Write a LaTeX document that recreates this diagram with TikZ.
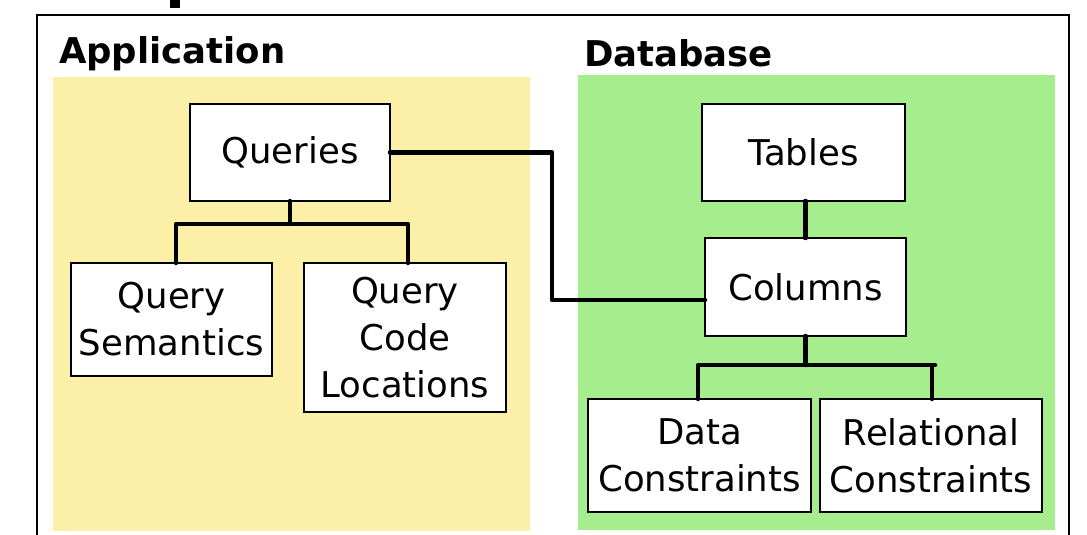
\documentclass[tikz,border=0pt]{standalone}
\usepackage{fontspec}
\setmainfont{DejaVu Sans}
\definecolor{appyellow}{RGB}{252,239,168}
\definecolor{dbgreen}{RGB}{166,238,141}
\begin{document}
\begin{tikzpicture}[x=1pt,y=-1pt,
  every node/.style={inner sep=0pt,outer sep=0pt},
  entity/.style={draw=black,line width=2pt,fill=white,align=center,
    font=\fontsize{35.5}{47}\selectfont},
  heading/.style={anchor=west,font=\fontsize{35.5}{42}\selectfont\bfseries},
  link/.style={draw=black,line width=4.5pt,line cap=round,line join=round}]
  \useasboundingbox (0,0) rectangle (1087,535);
  % stub of the title glyph above the frame
  \fill[black] (170,0) rectangle (180,8);
  % outer frame, open at the bottom
  \draw[line width=2pt] (37,540) -- (37,15) -- (1069,15) -- (1069,540);
  % group backgrounds
  \fill[appyellow] (53,77) rectangle (530,531);
  \fill[dbgreen] (578,75) rectangle (1055,530);
  \node[heading] (apph) at (59,54) {Application};
  \node[heading] (dbh) at (584,53) {Database};
  % application side
  \node[entity,minimum width=200pt,minimum height=97pt] (q) at (290,152.5) {Queries};
  \node[entity,minimum width=201pt,minimum height=113pt] (qs) at (171.5,319.5) {Query\\Semantics};
  \node[entity,minimum width=202pt,minimum height=149pt] (qcl) at (405,337.5) {Query\\Code\\Locations};
  % database side
  \node[entity,minimum width=203pt,minimum height=97pt] (t) at (803.5,152.5) {Tables};
  \node[entity,minimum width=201pt,minimum height=98pt] (c) at (805.5,287) {Columns};
  \node[entity,minimum width=223pt,minimum height=113pt] (dc) at (699.5,455.5) {Data\\Constraints};
  \node[entity,minimum width=222pt,minimum height=113pt] (rc) at (931,455.5) {Relational\\Constraints};
  % connectors
  \coordinate (qbar) at (290,224);
  \draw[link] (q.south) -- (qbar);
  \draw[link] ([xshift=4.5pt]qs.north) |- (qbar) -| ([xshift=3pt]qcl.north);
  \draw[link] (q.east) -| (552,300) -- ([yshift=-13pt]c.west);
  \draw[link] (t.south -| c.north) -- (c.north);
  \coordinate (cbar) at (805.5,365);
  \draw[link] (c.south) -- (cbar);
  \draw[link] ([xshift=-1.5pt]dc.north) |- (cbar) -| ([xshift=1pt]rc.north);
  \draw[link] ([xshift=1pt]rc.north |- cbar) -- (935,365);
\end{tikzpicture}
\end{document}
